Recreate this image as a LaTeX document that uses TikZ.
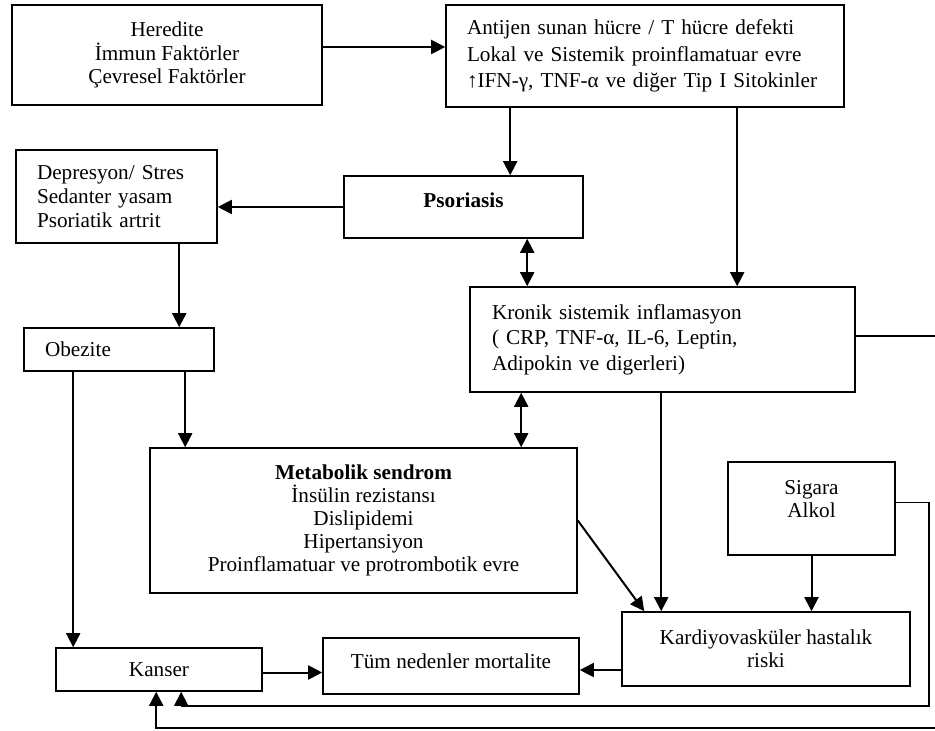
\documentclass[tikz,border=0pt]{standalone}
\usepackage{fontspec}
\setmainfont{Liberation Serif}
\usetikzlibrary{arrows.meta}

\tikzset{
  box/.style={draw, line width=0.8pt, inner sep=0pt, align=center},
  lbox/.style={box, align=left, inner xsep=10.5pt},
  arr/.style={line width=1pt, -{Triangle[length=7pt,width=7pt]}},
  darr/.style={line width=1pt, {Triangle[length=7pt,width=7pt]}-{Triangle[length=7pt,width=7pt]}},
  thin line/.style={line width=0.7pt}
}

\begin{document}
\begin{tikzpicture}[x=0.5pt, y=-0.5pt, font=\fontsize{10.6}{11.5}\selectfont]
      \useasboundingbox (0,0) rectangle (935,731);

      \node [box, minimum width=155pt, minimum height=50pt, font=\fontsize{10.6}{11.6}\selectfont] (her) at (167,55)
            {Heredite\\İmmun Faktörler\\Çevresel Faktörler};
      \node [lbox, text width=178pt, minimum height=51pt, font=\fontsize{10.6}{13.2}\selectfont] (ant) at (645,56)
            {Antijen sunan hücre / T hücre defekti\\Lokal ve Sistemik proinflamatuar evre\\↑IFN-γ, TNF-α ve diğer Tip I Sitokinler};
      \node [box, minimum width=119.5pt, minimum height=31pt, text height=16pt, text depth=15pt] (pso) at (463.5,207) {\textbf{Psoriasis}};
      \node [lbox, text width=79.5pt, minimum height=46.5pt, font=\fontsize{10.6}{12.2}\selectfont] (dep) at (116.5,196.5)
            {Depresyon/ Stres\\Sedanter yasam\\Psoriatik artrit};
      \node [lbox, text width=74pt, minimum height=21.5pt] (obe) at (119,349.5) {Obezite};
      \node [lbox, inner xsep=11pt, text width=170.5pt, minimum height=52.5pt, font=\fontsize{10.6}{12.8}\selectfont] (kro) at (662.5,339.5)
            {Kronik sistemik inflamasyon\\( CRP, TNF-α, IL-6, Leptin,\\Adipokin ve digerleri)};
      \node [box, minimum width=213.5pt, minimum height=72.5pt] (met) at (363.5,520.5)
            {\textbf{Metabolik sendrom}\\İnsülin rezistansı\\Dislipidemi\\Hipertansiyon\\Proinflamatuar ve protrombotik evre};
      \node [box, minimum width=83.5pt, minimum height=46.5pt, text height=27.5pt, text depth=19pt] (sig) at (811.5,508.5) {Sigara\\Alkol};
      \node [box, minimum width=144pt, minimum height=37pt] (kar) at (766,649) {Kardiyovasküler hastalık\\riski};
      \node [box, minimum width=128pt, minimum height=28pt, text height=15pt, text depth=13pt] (tum) at (451,666) {Tüm nedenler mortalite};
      \node [box, minimum width=103pt, minimum height=21.5pt] (kan) at (159,669.5) {Kanser};

      \coordinate (r1) at (929,706);
      \coordinate (e1) at (935,336);
      \coordinate (e2) at (935,728);

      \draw [arr] ([yshift=4pt]her.east) -- ([yshift=4pt]her.east -| ant.west);
      \draw [arr] ([xshift=32.5pt]ant.south west) -- ([xshift=32.5pt]ant.south west |- pso.north);
      \draw [arr] ([xshift=146pt]ant.south west) -- ([xshift=146pt]ant.south west |- kro.north);
      \draw [arr] (pso.west) -- (pso.west -| dep.east);
      \draw [darr] ([xshift=92pt]pso.south west) -- ([xshift=92pt]pso.south west |- kro.north);
      \draw [darr] ([xshift=26pt]kro.south west) -- ([xshift=26pt]kro.south west |- met.north);
      \draw [arr] ([xshift=82pt]dep.south west) -- ([xshift=82pt]dep.south west |- obe.north);
      \draw [arr] ([xshift=25pt]obe.south west) -- ([xshift=25pt]obe.south west |- kan.north);
      \draw [arr] ([xshift=81pt]obe.south west) -- ([xshift=81pt]obe.south west |- met.north);
      \draw [arr] (met.east) -- ([xshift=11.5pt]kar.north west);
      \draw [arr] ([xshift=96pt]kro.south west) -- ([xshift=96pt]kro.south west |- kar.north);
      \draw [arr] (sig.south) -- (sig.south |- kar.north);
      \draw [arr] ([yshift=-10.5pt]kar.west) -- ([yshift=-10.5pt]kar.west -| tum.east);
      \draw [arr] ([yshift=-1.5pt]kan.east) -- ([yshift=-1.5pt]kan.east -| tum.west);

      \draw [thin line] ([yshift=1.75pt]kro.east) -- ([yshift=1.75pt]kro.east -| e1);
      \draw [arr, line width=0.7pt] ([yshift=3pt]sig.east) -| (r1) -| ([xshift=63pt]kan.south west);
      \draw [arr] (e2) -| ([xshift=50.5pt]kan.south west);
\end{tikzpicture}
\end{document}
